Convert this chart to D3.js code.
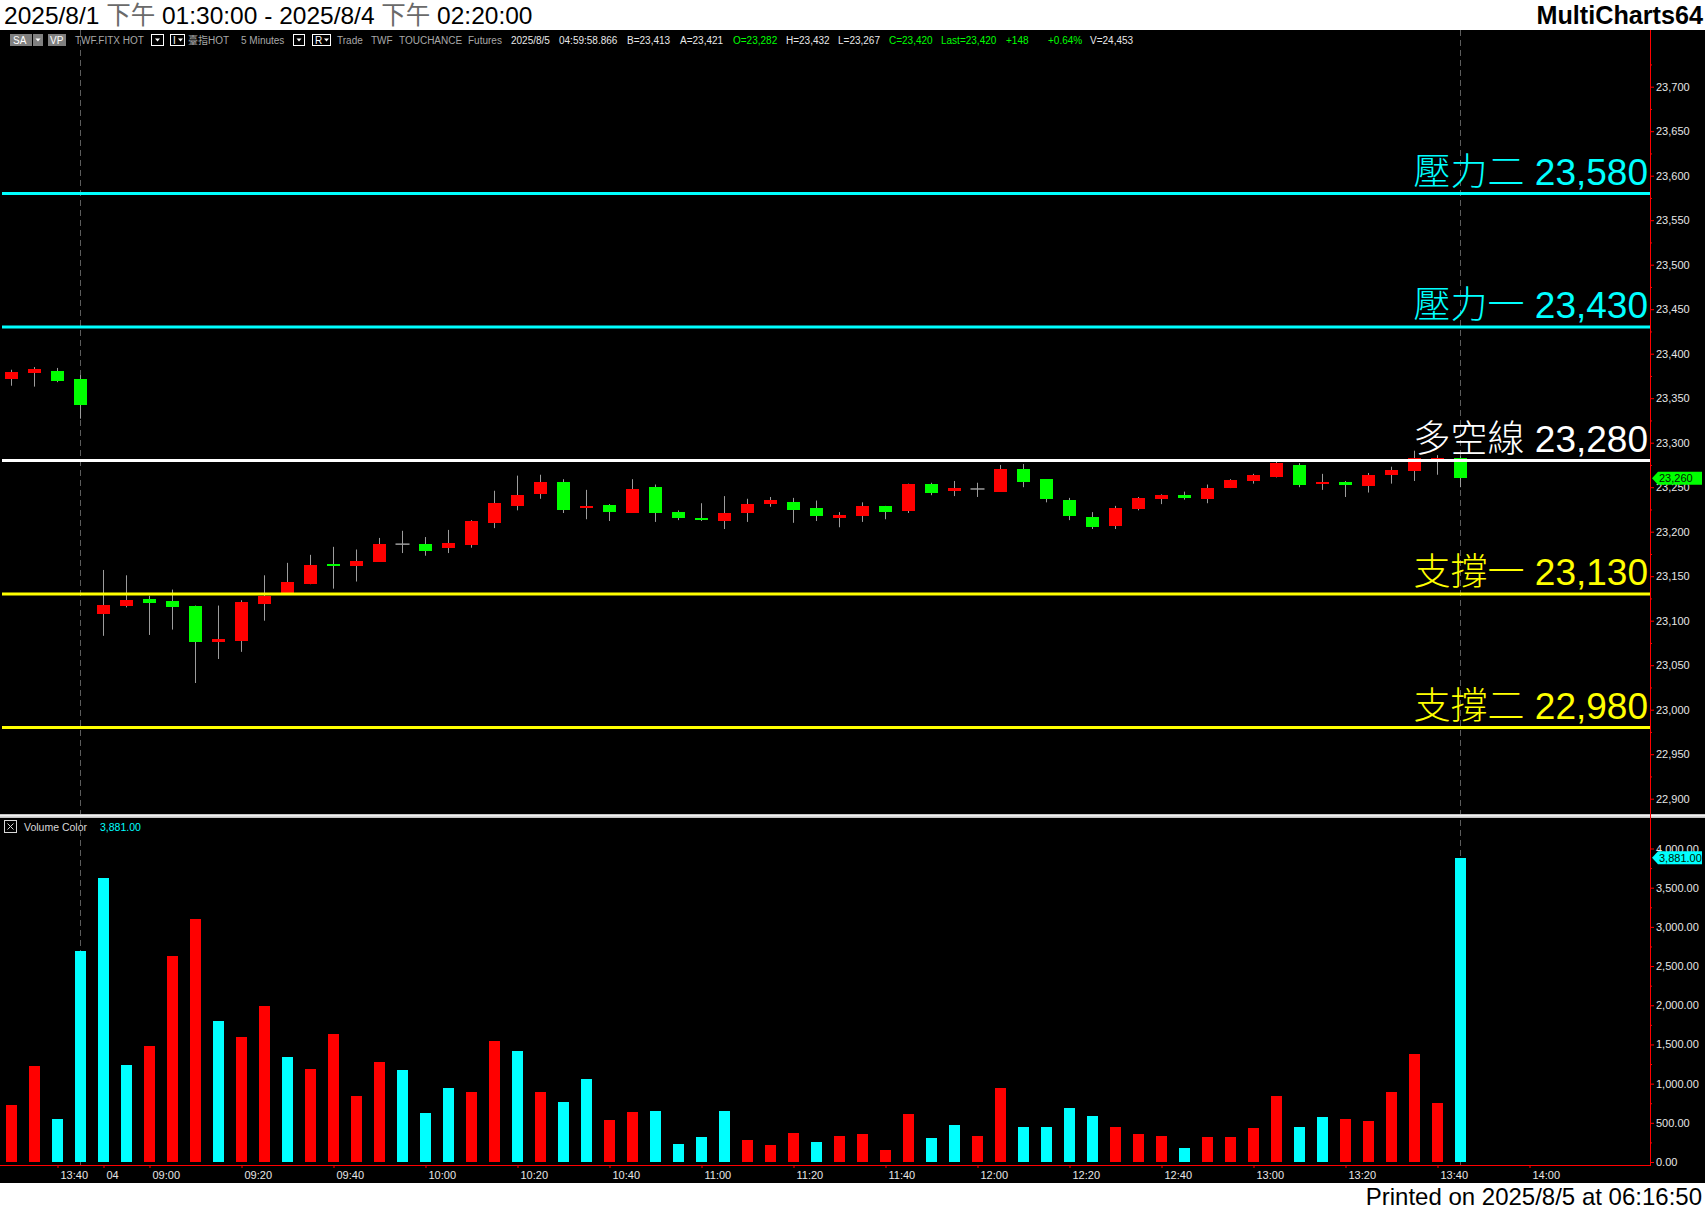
<!DOCTYPE html>
<html>
<head>
<meta charset="utf-8">
<script src="https://cdn.jsdelivr.net/npm/d3@7"></script>
<style>
html,body{margin:0;padding:0;background:#fff;}
svg{display:block;}
</style>
</head>
<body>
<svg id="chart" width="1705" height="1211"></svg>
<script>
// ---------------- DATA ----------------
const times = [
"8/1 13:30","8/1 13:35","8/1 13:40","8/1 13:45",
"8/4 08:50","8/4 08:55",
"8/4 09:00","8/4 09:05","8/4 09:10","8/4 09:15","8/4 09:20","8/4 09:25","8/4 09:30","8/4 09:35","8/4 09:40","8/4 09:45","8/4 09:50","8/4 09:55",
"8/4 10:00","8/4 10:05","8/4 10:10","8/4 10:15","8/4 10:20","8/4 10:25","8/4 10:30","8/4 10:35","8/4 10:40","8/4 10:45","8/4 10:50","8/4 10:55",
"8/4 11:00","8/4 11:05","8/4 11:10","8/4 11:15","8/4 11:20","8/4 11:25","8/4 11:30","8/4 11:35","8/4 11:40","8/4 11:45","8/4 11:50","8/4 11:55",
"8/4 12:00","8/4 12:05","8/4 12:10","8/4 12:15","8/4 12:20","8/4 12:25","8/4 12:30","8/4 12:35","8/4 12:40","8/4 12:45","8/4 12:50","8/4 12:55",
"8/4 13:00","8/4 13:05","8/4 13:10","8/4 13:15","8/4 13:20","8/4 13:25","8/4 13:30","8/4 13:35","8/4 13:40","8/4 13:45"
];
const futureSlots = ["8/4 13:50","8/4 13:55","8/4 14:00"];

const opens = [
23372,23378,23381,23372,23107,23117,23124,23122,23117,23076,
23077,23119,23131,23141,23164,23162,23166,23186,23186,23182,
23185,23210,23229,23242,23256,23227,23230,23221,23250,23222,
23215,23212,23221,23231,23233,23227,23215,23218,23229,23223,
23254,23246,23248,23245,23270,23259,23236,23217,23206,23226,
23237,23241,23237,23249,23257,23262,23275,23254,23256,23251,
23264,23268,23280,23283];
const highs = [
23382,23385,23384,23376,23157,23151,23128,23135,23117,23117,
23123,23151,23165,23174,23183,23180,23193,23201,23194,23202,
23213,23246,23263,23264,23259,23247,23231,23259,23253,23224,
23232,23240,23237,23239,23238,23235,23222,23233,23229,23254,
23255,23257,23255,23275,23276,23259,23238,23222,23229,23239,
23242,23245,23253,23259,23265,23279,23277,23265,23257,23266,
23273,23291,23286,23285];
const lows = [
23364,23363,23368,23327,23083,23115,23084,23090,23030,23057,
23065,23100,23131,23141,23136,23144,23166,23176,23173,23176,
23182,23204,23224,23237,23221,23214,23212,23221,23211,23213,
23212,23203,23211,23228,23210,23212,23205,23211,23214,23221,
23241,23240,23239,23245,23250,23233,23213,23203,23203,23224,
23231,23236,23232,23249,23254,23261,23250,23247,23239,23244,
23254,23257,23264,23250];
const closes = [
23379,23383,23369,23342,23118,23123,23120,23115,23076,23080,
23121,23128,23143,23163,23162,23167,23186,23186,23178,23187,
23212,23232,23241,23256,23224,23229,23222,23248,23221,23215,
23213,23221,23231,23236,23224,23218,23219,23229,23222,23254,
23244,23249,23248,23270,23256,23237,23218,23205,23227,23238,
23241,23238,23249,23258,23264,23277,23253,23256,23253,23264,
23269,23283,23283,23260];

const volumes = [
727,1225,549,2692,3624,1238,1480,2629,3101,1799,
1595,1991,1340,1187,1633,842,1276,1174,625,944,
893,1544,1410,890,760,1055,540,640,650,236,
320,650,280,222,375,250,333,360,153,611,
305,472,333,944,444,444,694,583,444,360,
333,180,320,320,430,847,447,574,549,523,
893,1378,753,3881];
const volumeDirection = [
"up","up","down","down","down","down","up","up","up","down",
"up","up","down","up","up","up","up","down","down","down",
"up","up","down","up","down","down","up","up","down","down",
"down","down","up","up","up","down","up","up","up","up",
"down","down","up","up","down","down","down","down","up","up",
"up","down","up","up","up","up","down","down","up","up",
"up","up","up","down"];

const levelNames  = ["壓力二","壓力一","多空線","支撐一","支撐二"];
const levelValues = [23580, 23430, 23280, 23130, 22980];

const priceTicks  = [23700,23650,23600,23550,23500,23450,23400,23350,23300,23250,23200,23150,23100,23050,23000,22950,22900];
const volumeTicks = [0,500,1000,1500,2000,2500,3000,3500,4000];
const timeTickSlots  = ["8/1 13:40","8/4 08:50","8/4 09:00","8/4 09:20","8/4 09:40","8/4 10:00","8/4 10:20","8/4 10:40","8/4 11:00","8/4 11:20","8/4 11:40","8/4 12:00","8/4 12:20","8/4 12:40","8/4 13:00","8/4 13:20","8/4 13:40","8/4 14:00"];
const timeTickLabels = ["13:40","04","09:00","09:20","09:40","10:00","10:20","10:40","11:00","11:20","11:40","12:00","12:20","12:40","13:00","13:20","13:40","14:00"];
const sessionMarks = ["8/1 13:45","8/4 13:45"];
const lastPrice = 23260;
const lastVolume = 3881;

// ---------------- STYLE ----------------
const FONT = "'Liberation Sans', Arial, 'Noto Sans CJK TC', sans-serif";
const CJK  = "'Noto Sans CJK TC', 'Noto Sans CJK SC', sans-serif";
const levelColors = {"壓力二":"#00ffff","壓力一":"#00ffff","多空線":"#ffffff","支撐一":"#ffff00","支撐二":"#ffff00"};
const UP = "#ff0000", DOWN = "#00ff00", VUP = "#ff0000", VDOWN = "#00ffff", WICK = "#9c9c9c";
const AXIS_X = 1650;

const svg = d3.select("#chart");
svg.append("rect").attr("width",1705).attr("height",1211).attr("fill","#ffffff");
svg.append("rect").attr("x",0).attr("y",30).attr("width",1705).attr("height",1153).attr("fill","#000000");

// ---------------- SCALES ----------------
const slots = times.concat(futureSlots);
const x = d3.scaleLinear().domain([0, times.length - 1]).range([11.5, 1460.5]);
const yPrice = d3.scaleLinear().domain([22900, 23700]).range([798.7, 86.7]);
const yVol = d3.scaleLinear().domain([0, 4000]).range([1162, 848.5]);

// ---------------- HEADER ----------------
const hdr = svg.append("text").attr("x",4).attr("y",24).attr("font-family",FONT).attr("font-size",24.5).attr("fill","#000");
[["2025/8/1 ","#000"],["下午","#6a6a6a"],[" 01:30:00 - 2025/8/4 ","#000"],["下午","#6a6a6a"],[" 02:20:00","#000"]]
  .forEach(([t,c])=>hdr.append("tspan").attr("fill",c).text(t));
svg.append("text").attr("x",1703).attr("y",24).attr("text-anchor","end").attr("font-family",FONT)
  .attr("font-weight","bold").attr("font-size",25.2).attr("fill","#000").text("MultiCharts64");

// info bar
const info = svg.append("g").attr("font-family",FONT).attr("font-size",10);
info.append("rect").attr("x",10).attr("y",34).attr("width",22).attr("height",12).attr("fill","#808080");
info.append("rect").attr("x",33).attr("y",34).attr("width",10).attr("height",12).attr("fill","#808080");
info.append("text").attr("x",13).attr("y",44).attr("fill","#fff").text("SA");
info.append("rect").attr("x",48).attr("y",34).attr("width",18).attr("height",12).attr("fill","#808080");
info.append("text").attr("x",50).attr("y",44).attr("fill","#fff").text("VP");
function tri(cx){ info.append("path").attr("d",`M${cx-2.5},38.5 L${cx+2.5},38.5 L${cx},41.5 Z`).attr("fill","#fff"); }
tri(38);
[[151,12,""],[170,14,"I"],[293,11,""],[312,18,"R"]].forEach(([bx,bw,t])=>{
  info.append("rect").attr("x",bx+0.5).attr("y",34.5).attr("width",bw).attr("height",11).attr("fill","#000").attr("stroke","#fff");
  if(t){ info.append("text").attr("x",bx+3).attr("y",44).attr("fill","#fff").text(t); tri(bx+bw-3.5); }
  else tri(bx+bw/2+0.5);
});
const infoItems = [
  ["TWF.FITX HOT",75,"#a8a8a8"],["臺指HOT",188,"#a8a8a8"],["5 Minutes",241,"#a8a8a8"],
  ["Trade",337,"#a8a8a8"],["TWF",371,"#a8a8a8"],["TOUCHANCE",399,"#a8a8a8"],["Futures",468,"#a8a8a8"],
  ["2025/8/5",511,"#e8e8e8"],["04:59:58.866",559,"#e8e8e8"],["B=23,413",627,"#e8e8e8"],["A=23,421",680,"#e8e8e8"],
  ["O=23,282",733,"#00ff00"],["H=23,432",786,"#e8e8e8"],["L=23,267",838,"#e8e8e8"],
  ["C=23,420",889,"#00ff00"],["Last=23,420",941,"#00ff00"],["+148",1006,"#00ff00"],["+0.64%",1048,"#00ff00"],["V=24,453",1090,"#e8e8e8"]
];
infoItems.forEach(([t,px,c])=>info.append("text").attr("x",px).attr("y",44).attr("fill",c).text(t));

// ---------------- SESSION DASHED LINES ----------------
svg.append("g").selectAll("line").data(sessionMarks).join("line")
  .attr("x1",d=>x(slots.indexOf(d))).attr("x2",d=>x(slots.indexOf(d)))
  .attr("y1",30).attr("y2",1165)
  .attr("stroke","#5c5c5c").attr("stroke-width",1).attr("stroke-dasharray","6,4");

// ---------------- CANDLES ----------------
const candles = times.map((t,i)=>({t, i, o:opens[i], h:highs[i], l:lows[i], c:closes[i]}));
const gC = svg.append("g");
gC.selectAll("line.wick").data(candles).join("line").attr("class","wick")
  .attr("x1",d=>x(d.i)).attr("x2",d=>x(d.i))
  .attr("y1",d=>yPrice(d.h)).attr("y2",d=>yPrice(d.l))
  .attr("stroke",WICK).attr("stroke-width",1);
gC.selectAll("rect.body").data(candles.filter(d=>d.o!==d.c)).join("rect").attr("class","body")
  .attr("x",d=>x(d.i)-6.5).attr("width",13)
  .attr("y",d=>yPrice(Math.max(d.o,d.c)))
  .attr("height",d=>Math.max(1.5, yPrice(Math.min(d.o,d.c)) - yPrice(Math.max(d.o,d.c))))
  .attr("fill",d=>d.c>d.o?UP:DOWN).attr("shape-rendering","crispEdges");
gC.selectAll("line.doji").data(candles.filter(d=>d.o===d.c)).join("line").attr("class","doji")
  .attr("x1",d=>x(d.i)-7).attr("x2",d=>x(d.i)+7)
  .attr("y1",d=>yPrice(d.o)).attr("y2",d=>yPrice(d.o))
  .attr("stroke",WICK).attr("stroke-width",1.5);

// ---------------- LEVELS ----------------
const levels = levelNames.map((n,i)=>({n, v:levelValues[i]}));
const gL = svg.append("g");
gL.selectAll("line").data(levels).join("line")
  .attr("x1",2).attr("x2",AXIS_X).attr("y1",d=>yPrice(d.v)).attr("y2",d=>yPrice(d.v))
  .attr("stroke",d=>levelColors[d.n]).attr("stroke-width",3);
const lt = gL.selectAll("text").data(levels).join("text")
  .attr("x",1648).attr("y",d=>yPrice(d.v)-9).attr("text-anchor","end")
  .attr("font-size",37).attr("fill",d=>levelColors[d.n]);
lt.append("tspan").attr("font-family",CJK).attr("font-weight",300).text(d=>d.n);
lt.append("tspan").attr("font-family",FONT).text(d=>" " + d3.format(",")(d.v));

// ---------------- PANE SEPARATOR ----------------
svg.append("rect").attr("x",0).attr("y",814).attr("width",1705).attr("height",4).attr("fill","#c4c4c4");
svg.append("rect").attr("x",0).attr("y",815).attr("width",1705).attr("height",1.5).attr("fill","#f2f2f2");

// ---------------- VOLUME ----------------
const gV = svg.append("g");
gV.selectAll("rect").data(volumes.map((v,i)=>({v,i,d:volumeDirection[i]}))).join("rect")
  .attr("x",d=>x(d.i)-5.5).attr("width",11)
  .attr("y",d=>yVol(d.v)).attr("height",d=>yVol(0)-yVol(d.v))
  .attr("fill",d=>d.d==="up"?VUP:VDOWN).attr("shape-rendering","crispEdges");

// legend
const leg = svg.append("g").attr("font-family",FONT).attr("font-size",10.5);
leg.append("rect").attr("x",4.5).attr("y",820.5).attr("width",12).attr("height",12).attr("fill","none").attr("stroke","#d8d8d8");
leg.append("path").attr("d","M7.5,823.5 L13.5,829.5 M13.5,823.5 L7.5,829.5").attr("stroke","#d8d8d8");
leg.append("text").attr("x",24).attr("y",831).attr("fill","#d8d8d8").text("Volume Color");
leg.append("text").attr("x",100).attr("y",831).attr("fill","#00ffff").text(d3.format(",.2f")(lastVolume));

// ---------------- AXES ----------------
function styleAxis(g){
  g.select(".domain").remove();
  g.selectAll(".tick line").attr("stroke","#ff0000");
  g.selectAll(".tick text").attr("fill","#e6e6e6").attr("font-family",FONT).attr("font-size",11);
}
const priceMinor = priceTicks.map(v=>v+25).filter(v=>v<=23750);
svg.append("g").attr("transform",`translate(${AXIS_X},0)`)
  .call(d3.axisRight(yPrice).tickValues(priceMinor).tickFormat("").tickSize(2)).call(styleAxis);
svg.append("g").attr("transform",`translate(${AXIS_X},0)`)
  .call(d3.axisRight(yPrice).tickValues(priceTicks).tickFormat(d3.format(",")).tickSize(4).tickPadding(2)).call(styleAxis);
const volMinor = volumeTicks.map(v=>v+250).filter(v=>v<4000);
svg.append("g").attr("transform",`translate(${AXIS_X},0)`)
  .call(d3.axisRight(yVol).tickValues(volMinor).tickFormat("").tickSize(2)).call(styleAxis);
svg.append("g").attr("transform",`translate(${AXIS_X},0)`)
  .call(d3.axisRight(yVol).tickValues(volumeTicks).tickFormat(d3.format(",.2f")).tickSize(4).tickPadding(2)).call(styleAxis);

const tickIdx = timeTickSlots.map(s=>slots.indexOf(s));
const gX = svg.append("g").attr("transform","translate(0,1165)")
  .call(d3.axisBottom(x).tickValues(tickIdx).tickFormat((d,i)=>timeTickLabels[i]).tickSize(3)).call(styleAxis);
gX.selectAll(".tick text").attr("text-anchor","start").attr("x",2.5).attr("y",14.3).attr("dy",0);

// axis lines
svg.append("line").attr("x1",AXIS_X+0.5).attr("x2",AXIS_X+0.5).attr("y1",30).attr("y2",1166).attr("stroke","#ff0000");
svg.append("line").attr("x1",0).attr("x2",AXIS_X).attr("y1",1165.5).attr("y2",1165.5).attr("stroke","#ff0000");

// last value tags
function tag(yy, fill, label){
  const g = svg.append("g");
  g.append("path").attr("d",`M1652,${yy} L1658,${yy-6.5} L1702,${yy-6.5} L1702,${yy+6.5} L1658,${yy+6.5} Z`).attr("fill",fill);
  g.append("text").attr("x",1659).attr("y",yy+4).attr("font-family",FONT).attr("font-size",11).attr("fill","#002000").text(label);
}
tag(yPrice(lastPrice), "#00ff00", d3.format(",")(lastPrice));
tag(yVol(lastVolume), "#00ffff", d3.format(",.2f")(lastVolume));

// ---------------- FOOTER ----------------
svg.append("text").attr("x",1702).attr("y",1205).attr("text-anchor","end").attr("font-family",FONT)
  .attr("font-size",24).attr("fill","#000").text("Printed on 2025/8/5 at 06:16:50");
</script>
</body>
</html>
